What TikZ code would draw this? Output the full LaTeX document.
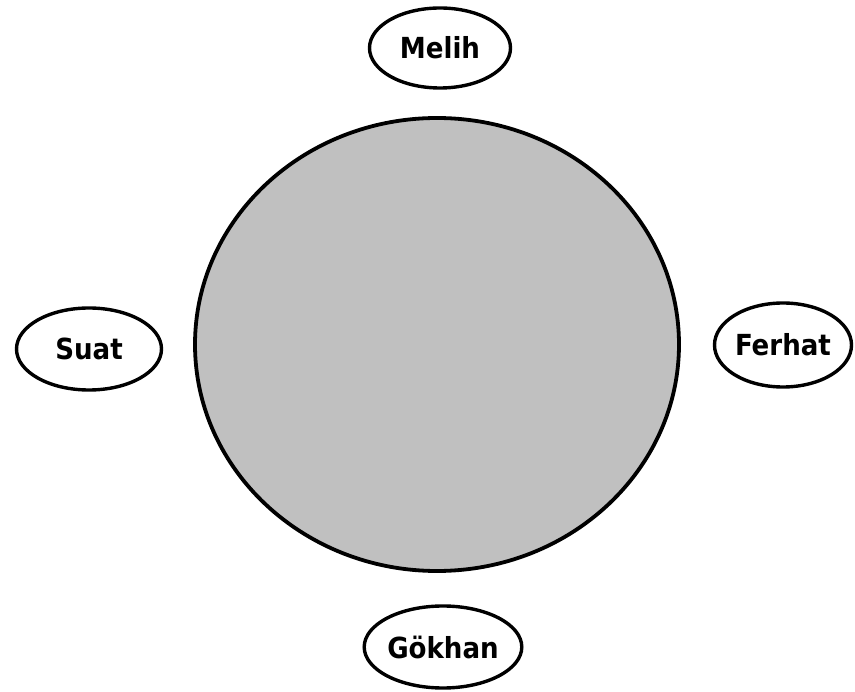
\documentclass[tikz,border=0pt]{standalone}
\usepackage{fontspec}
\setmainfont{DejaVu Sans Condensed}
\usetikzlibrary{shapes.geometric}
\definecolor{tablegrey}{HTML}{C0C0C0}
\tikzset{
  every picture/.style={x=1pt, y=-1pt, line width=3.4pt},
  person/.style={draw=black, fill=white, ellipse, inner sep=0pt, minimum width=#1, font=\fontsize{29}{34}\selectfont\bfseries},
  table/.style={draw=black, fill=tablegrey, ellipse, inner sep=0pt, line width=3.8pt},
}

\begin{document}
\begin{tikzpicture}
  \useasboundingbox (0,0) rectangle (855,692);
  % the table
  \node[table, minimum width=484pt, minimum height=453pt] (masa) at (437,344.5) {};
  % people around it
  \foreach \n/\X/\Y/\w/\h/\t in {
     melih/440/48/141pt/80pt/{Melih},
     suat/89/349/145pt/82pt/{Suat},
     ferhat/783/345/137pt/84pt/{Ferhat},
     gokhan/443/647/137pt/82pt/{Gökhan}} {
    \node[person=\w, minimum height=\h] (\n) at (\X,\Y) {\t};
  }
\end{tikzpicture}
\end{document}
